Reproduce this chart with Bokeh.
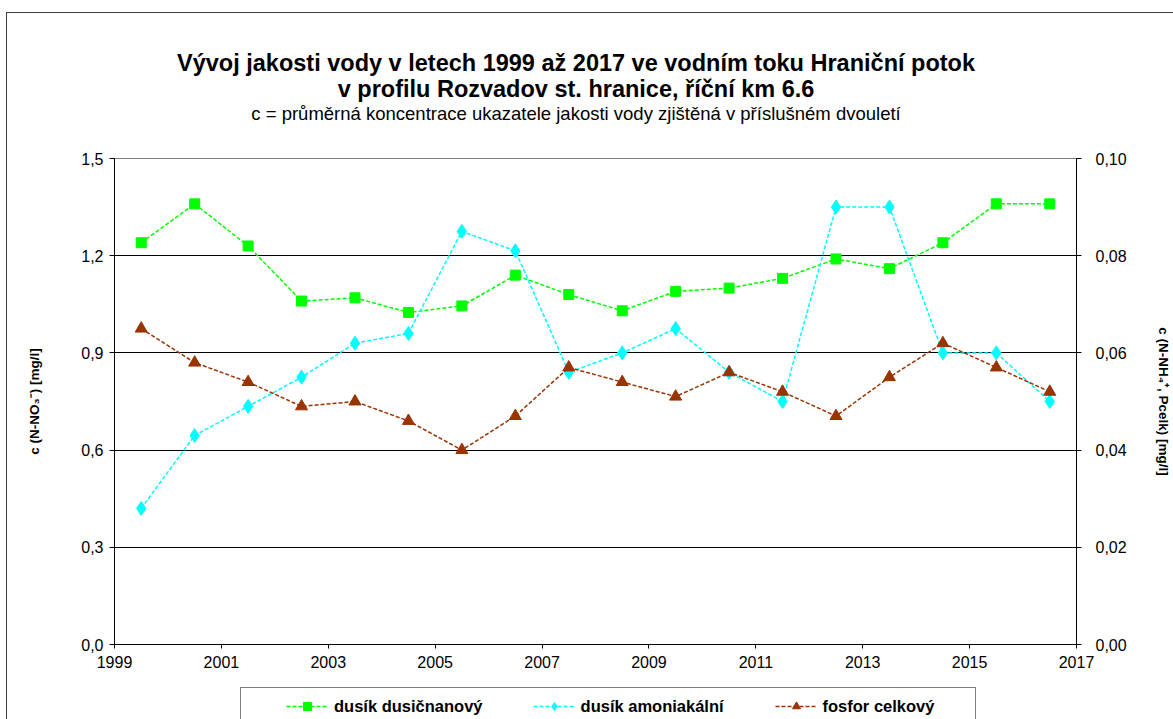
from bokeh.plotting import figure
from bokeh.models import (Range1d, LinearAxis, FixedTicker, Legend, LegendItem, Label)
from bokeh.layouts import column
from bokeh.embed import file_html
from bokeh.resources import INLINE

# ---------------- data ----------------
years = [1999.5, 2000.5, 2001.5, 2002.5, 2003.5, 2004.5, 2005.5, 2006.5, 2007.5,
         2008.5, 2009.5, 2010.5, 2011.5, 2012.5, 2013.5, 2014.5, 2015.5, 2016.5]
dusik_dusicnanovy = [1.24, 1.36, 1.23, 1.06, 1.07, 1.025, 1.045, 1.14, 1.08,
                     1.03, 1.09, 1.10, 1.13, 1.19, 1.16, 1.24, 1.36, 1.36]
dusik_amoniakalni = [0.028, 0.043, 0.049, 0.055, 0.062, 0.064, 0.085, 0.081, 0.056,
                     0.060, 0.065, 0.056, 0.050, 0.090, 0.090, 0.060, 0.060, 0.050]
fosfor_celkovy = [0.065, 0.058, 0.054, 0.049, 0.050, 0.046, 0.040, 0.047, 0.057,
                  0.054, 0.051, 0.056, 0.052, 0.047, 0.055, 0.062, 0.057, 0.052]
series_names = ["dusík dusičnanový", "dusík amoniakální", "fosfor celkový"]

x_ticks = [1999, 2001, 2003, 2005, 2007, 2009, 2011, 2013, 2015, 2017]
left_ticks = [0.0, 0.3, 0.6, 0.9, 1.2, 1.5]
left_tick_labels = ["0,0", "0,3", "0,6", "0,9", "1,2", "1,5"]
right_ticks = [0.0, 0.02, 0.04, 0.06, 0.08, 0.10]
right_tick_labels = ["0,00", "0,02", "0,04", "0,06", "0,08", "0,10"]
grid_ticks = [0.3, 0.6, 0.9, 1.2]

title_1 = "Vývoj jakosti vody v letech 1999 až 2017 ve vodním toku Hraniční potok"
title_2 = "v profilu Rozvadov st. hranice, říční km 6.6"
subtitle = "c = průměrná koncentrace ukazatele jakosti vody zjištěná v příslušném dvouletí"
left_label = "c (N-NO₃⁻) [mg/l]"
right_label = "c (N-NH₄⁺, Pcelk) [mg/l]"

# ---------------- geometry ----------------
FONT = "Liberation Sans"
W = 1166                      # width of every panel
HT, HM, HL = 130, 536, 40     # heights: titles, chart, legend strip
ML, MR, MT, MB = 107, 96, 15, 35
GREEN, CYAN, BROWN = "#00FF00", "#00FFFF", "#993300"
DASH = "4 2"

def bare(height, xr, yr):
    f = figure(width=W, height=height, output_backend="svg", toolbar_location=None,
               x_range=xr, y_range=yr, x_axis_location=None, y_axis_location=None,
               min_border_left=0, min_border_right=0, min_border_top=0,
               min_border_bottom=0)
    f.grid.visible = False
    f.outline_line_color = None
    f.background_fill_color = "white"
    f.border_fill_color = "white"
    return f

# ---------------- title strip ----------------
# (the column aligns this strip's frame with the chart frame: ML .. W-MR)
top = bare(HT, Range1d(ML, W - MR), Range1d(HT, 0))
for ty, txt, size, style in [(49, title_1, "23.5px", "bold"),
                             (75, title_2, "23.5px", "bold"),
                             (100, subtitle, "18.5px", "normal")]:
    top.add_layout(Label(x=569, y=ty, text=txt, text_align="center",
                         text_baseline="middle", text_font=FONT,
                         text_font_size=size, text_font_style=style,
                         text_color="black"))

# ---------------- main chart ----------------
p = figure(width=W, height=HM, output_backend="svg", toolbar_location=None,
           x_range=Range1d(1999, 2017), y_range=Range1d(0, 1.5),
           min_border_left=ML, min_border_right=MR,
           min_border_top=MT, min_border_bottom=MB)
p.extra_y_ranges = {"right": Range1d(0, 0.1)}
p.background_fill_color = "white"
p.border_fill_color = "white"
p.outline_line_color = "#808080"
p.outline_line_width = 1

xa = p.xaxis[0]
xa.ticker = FixedTicker(ticks=x_ticks)
xa.major_label_text_font = FONT
xa.major_label_text_font_size = "16px"
xa.major_label_text_color = "black"
xa.major_label_standoff = 7
xa.axis_line_color = "black"
xa.major_tick_line_color = "black"
xa.major_tick_out = 4
xa.major_tick_in = 0
xa.minor_tick_line_color = None

ya = p.yaxis[0]
ya.ticker = FixedTicker(ticks=left_ticks)
ya.major_label_overrides = dict(zip(left_ticks, left_tick_labels))
ya.major_label_text_font = FONT
ya.major_label_text_font_size = "16px"
ya.major_label_text_color = "black"
ya.major_label_standoff = 6
ya.axis_line_color = "black"
ya.major_tick_line_color = "black"
ya.major_tick_out = 5
ya.major_tick_in = 0
ya.minor_tick_line_color = None
ya.axis_label = left_label
ya.axis_label_text_font = FONT
ya.axis_label_text_font_size = "13.5px"
ya.axis_label_text_font_style = "bold"
ya.axis_label_text_color = "black"
ya.axis_label_standoff = 36

ra = LinearAxis(y_range_name="right", ticker=FixedTicker(ticks=right_ticks))
ra.major_label_overrides = dict(zip(right_ticks, right_tick_labels))
ra.major_label_text_font = FONT
ra.major_label_text_font_size = "16px"
ra.major_label_text_color = "black"
ra.major_label_standoff = 14
ra.axis_line_color = "black"
ra.major_tick_line_color = "black"
ra.major_tick_out = 5
ra.major_tick_in = 0
ra.minor_tick_line_color = None
ra.axis_label = right_label
ra.axis_label_text_font = FONT
ra.axis_label_text_font_size = "13.5px"
ra.axis_label_text_font_style = "bold"
ra.axis_label_text_color = "black"
ra.axis_label_standoff = 26
p.add_layout(ra, "right")

p.xgrid.visible = False
p.ygrid.ticker = FixedTicker(ticks=grid_ticks)
p.ygrid.grid_line_color = "black"
p.ygrid.grid_line_width = 1

p.line(years, dusik_dusicnanovy, line_color=GREEN, line_width=1.5, line_dash=DASH)
p.scatter(years, dusik_dusicnanovy, marker="square", size=10,
          fill_color=GREEN, line_color=GREEN)
p.line(years, dusik_amoniakalni, line_color=CYAN, line_width=1.5, line_dash=DASH,
       y_range_name="right")
p.scatter(years, dusik_amoniakalni, marker="diamond", size=14,
          fill_color=CYAN, line_color=CYAN, y_range_name="right")
p.line(years, fosfor_celkovy, line_color=BROWN, line_width=1.5, line_dash=DASH,
       y_range_name="right")
p.scatter(years, fosfor_celkovy, marker="triangle", size=12,
          fill_color=BROWN, line_color=BROWN, y_range_name="right")

# ---------------- legend strip ----------------
# legend samples: one point far outside the strip's visible range
leg = bare(HL, Range1d(0, 1), Range1d(0, 1))
off = [-100]
lg_l1 = leg.line(off, off, line_color=GREEN, line_width=1.5, line_dash=DASH)
lg_m1 = leg.scatter(off, off, marker="square", size=10, fill_color=GREEN,
                    line_color=GREEN)
lg_l2 = leg.line(off, off, line_color=CYAN, line_width=1.5, line_dash=DASH)
lg_m2 = leg.scatter(off, off, marker="diamond", size=14, fill_color=CYAN,
                    line_color=CYAN)
lg_l3 = leg.line(off, off, line_color=BROWN, line_width=1.5, line_dash=DASH)
lg_m3 = leg.scatter(off, off, marker="triangle", size=12, fill_color=BROWN,
                    line_color=BROWN)
legend = Legend(items=[LegendItem(label=series_names[0], renderers=[lg_l1, lg_m1]),
                       LegendItem(label=series_names[1], renderers=[lg_l2, lg_m2]),
                       LegendItem(label=series_names[2], renderers=[lg_l3, lg_m3])],
                orientation="horizontal", location=(233 - ML, -6),
                title=" ", title_location="left", title_text_font_size="1px",
                title_standoff=36,
                padding=8, spacing=50, margin=0, glyph_width=42, glyph_height=20,
                label_standoff=6, label_width=144,
                label_text_font=FONT, label_text_font_size="16.5px",
                label_text_font_style="bold", label_text_color="black",
                border_line_color="black", border_line_width=1,
                background_fill_color="white", background_fill_alpha=1)
leg.add_layout(legend, "center")

page = column(top, p, leg, spacing=0,
              styles={"margin-left": "6px", "margin-top": "12px",
                      "border-left": "1px solid #404040",
                      "border-top": "1px solid #404040"})

open("out.html", "w").write(file_html(page, INLINE))
